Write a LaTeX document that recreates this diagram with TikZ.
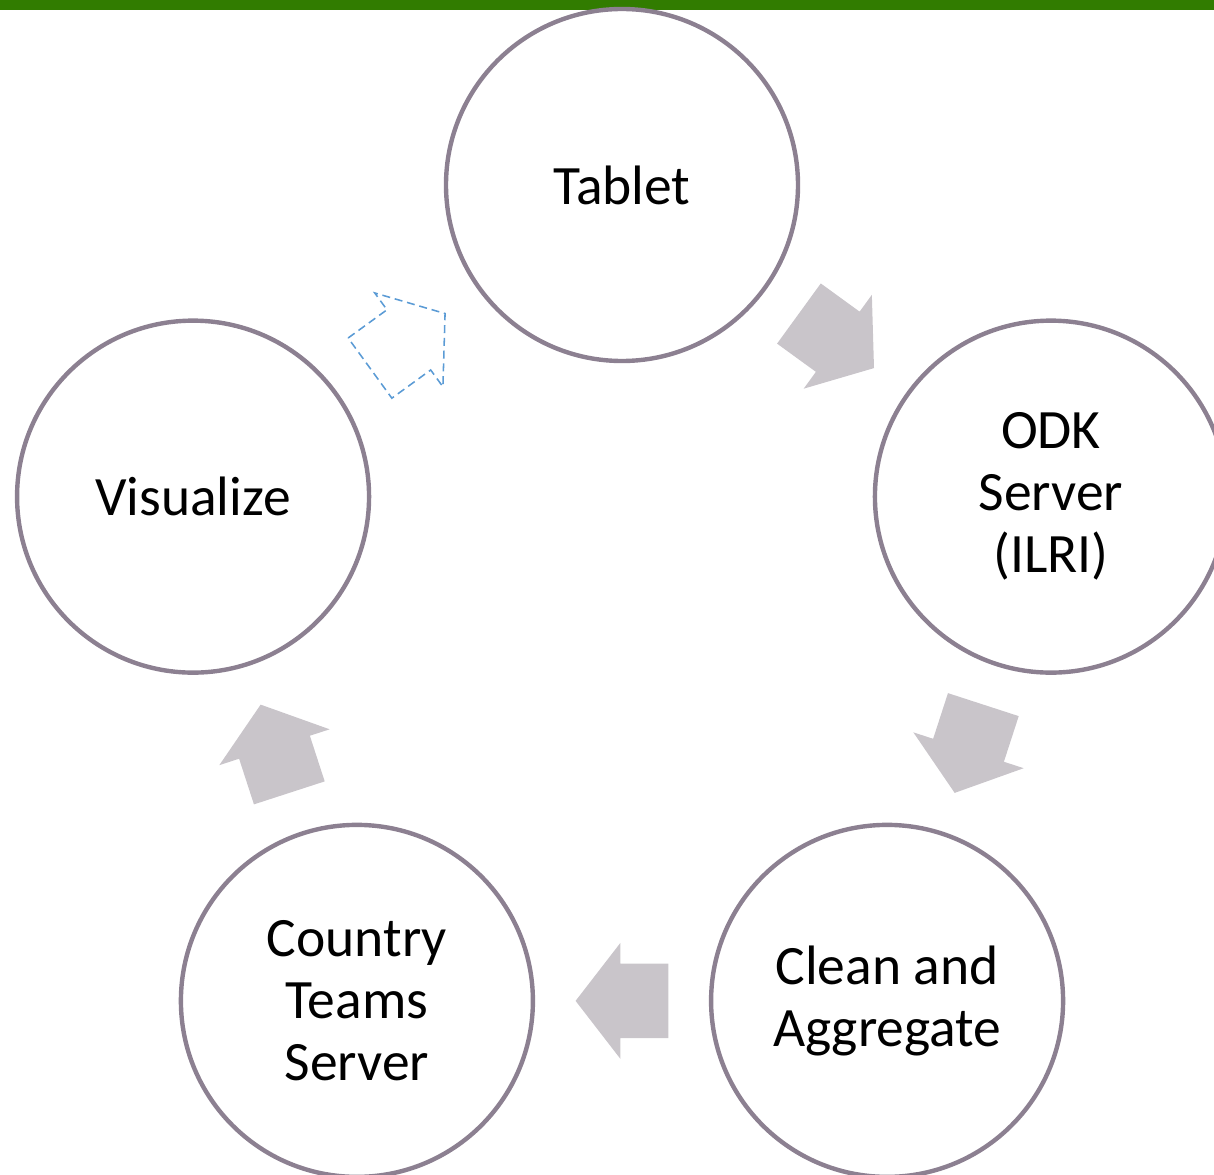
\documentclass[tikz,border=0pt]{standalone}
\usepackage{fontspec}
\setmainfont{Carlito}
\usetikzlibrary{calc}

\definecolor{ringcol}{RGB}{140,128,145}
\definecolor{arrowcol}{RGB}{201,197,202}
\definecolor{dashcol}{RGB}{91,155,213}
\definecolor{barcol}{RGB}{49,124,0}

\begin{document}
\begin{tikzpicture}[
    stage/.style={
        draw=ringcol,
        line width=0.11cm,
        shape=circle,
        minimum size=8.8cm,
        inner sep=0pt,
        align=center,
        font=\fontsize{39.5}{44}\selectfont,
    },
    flow/.style={fill=arrowcol, draw=none},
    flowdash/.style={draw=dashcol, line width=1.1pt, dash pattern=on 0.2cm off 0.12cm},
]

\def\RR{11.275}     %radius of the ring of stages

% page and top bar
\useasboundingbox (-15.55,-13.45) rectangle (14.8,15.9);
\fill[barcol] (-15.55,15.65) rectangle (14.8,15.9);

% one block arrow: #1 style, #2 position, #3 angle
\newcommand{\flowarrow}[3]{%
  \path[#1, shift={(#2)}, rotate=#3]
    (-1.16,0.93) -- (0.04,0.93) -- (0.04,1.45) -- (1.16,0)
    -- (0.04,-1.45) -- (0.04,-0.93) -- (-1.16,-0.93) -- cycle;}

\node[stage] (tab) at (90:\RR)   {Tablet};
\node[stage] (odk) at (18:\RR)   {ODK\\Server\\(ILRI)};
\node[stage] (cln) at (-54:\RR)  {Clean and\\Aggregate};
\node[stage] (cty) at (-126:\RR) {Country\\Teams\\Server};
\node[stage] (vis) at (162:\RR)  {Visualize};

\flowarrow{flow}{$(tab)!0.5!(odk)$}{-36}
\flowarrow{flow}{$(odk)!0.5!(cln)$}{-108}
\flowarrow{flow}{$(cln)!0.5!(cty)$}{180}
\flowarrow{flow}{$(cty)!0.5!(vis)$}{108}
\flowarrow{flowdash}{$(vis)!0.5!(tab)$}{36}

\end{tikzpicture}
\end{document}
